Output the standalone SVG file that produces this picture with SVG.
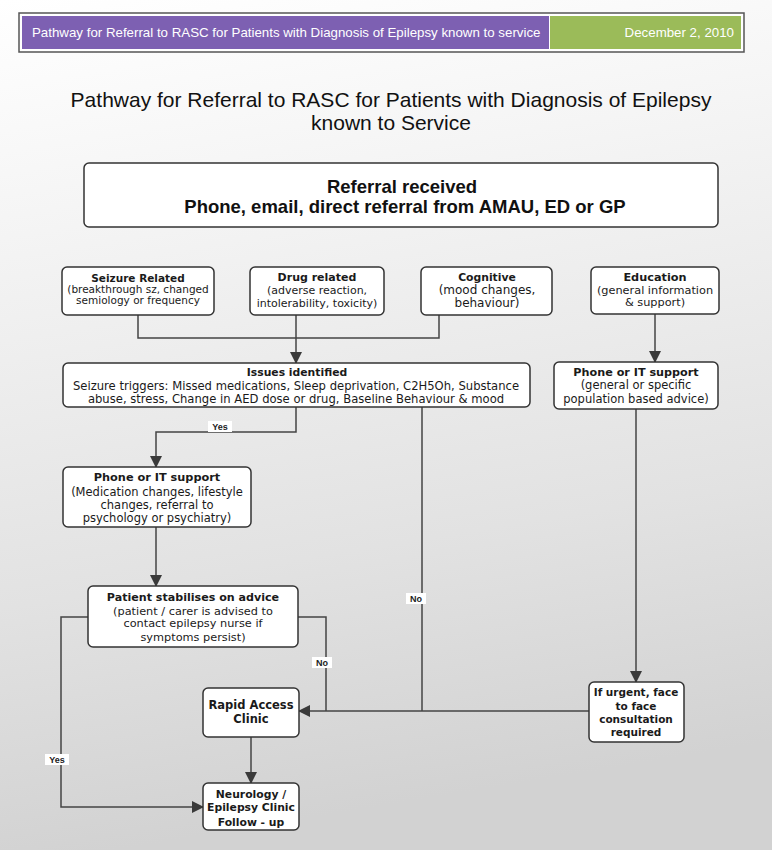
<svg xmlns="http://www.w3.org/2000/svg" width="772" height="850" viewBox="0 0 772 850">
<defs>
  <linearGradient id="bg" x1="0" y1="0" x2="0.15" y2="1">
    <stop offset="0" stop-color="#ffffff"/>
    <stop offset="0.25" stop-color="#f5f5f5"/>
    <stop offset="0.7" stop-color="#e2e2e2"/>
    <stop offset="1" stop-color="#d2d2d2"/>
  </linearGradient>
  <marker id="arr" viewBox="0 0 12 12" refX="11" refY="6" markerWidth="12" markerHeight="12" markerUnits="userSpaceOnUse" orient="auto">
    <path d="M0,0 L12,6 L0,12 Z" fill="#3a3a3a"/>
  </marker>
  <style>
    .box{fill:#ffffff;stroke:#333333;stroke-width:1.5}
    .t{font-family:"DejaVu Sans",Verdana,sans-serif;fill:#1a1a1a;text-anchor:middle}
    .b{font-weight:bold}
    .ln{fill:none;stroke:#444444;stroke-width:1.5}
    .lbl{font-family:"Liberation Sans",Arial,sans-serif;font-size:9px;font-weight:bold;fill:#222;text-anchor:middle}
    .lblbg{fill:#ffffff}
    .hd{font-family:"Liberation Sans",Arial,sans-serif;font-size:13.3px;fill:#ffffff}
    .ttl{font-family:"Liberation Sans",Arial,sans-serif;font-size:21px;fill:#111111;text-anchor:middle}
    .ref{font-family:"Liberation Sans",Arial,sans-serif;font-size:18.5px;font-weight:bold;fill:#111111;text-anchor:middle}
  </style>
</defs>
<rect x="0" y="0" width="772" height="850" fill="url(#bg)"/>

<g id="header">
  <rect x="19" y="13" width="725" height="39" fill="#ffffff" stroke="#555555" stroke-width="1.5"/>
  <rect x="22" y="16" width="527" height="33" fill="#7d60b2"/>
  <rect x="550" y="16" width="191" height="33" fill="#9bbb59"/>
  <text class="hd" x="32" y="37">Pathway for Referral to RASC for Patients with Diagnosis of Epilepsy known to service</text>
  <text class="hd" x="734" y="37" text-anchor="end">December 2, 2010</text>
</g>

<g id="title">
  <text class="ttl" x="391" y="107">Pathway for Referral to RASC for Patients with Diagnosis of Epilepsy</text>
  <text class="ttl" x="391" y="130">known to Service</text>
</g>

<g id="connectors">
  <polyline class="ln" points="138,315 138,338 439,338 439,315"/>
  <line class="ln" x1="296" y1="315" x2="296" y2="363" marker-end="url(#arr)"/>
  <line class="ln" x1="655" y1="314" x2="655" y2="362" marker-end="url(#arr)"/>
  <polyline class="ln" points="296,407 296,432 156,432 156,467" marker-end="url(#arr)"/>
  <polyline class="ln" points="422,407 422,711"/>
  <line class="ln" x1="636" y1="409" x2="636" y2="682" marker-end="url(#arr)"/>
  <polyline class="ln" points="589,711 299,711" marker-end="url(#arr)"/>
  <line class="ln" x1="156" y1="527" x2="156" y2="586" marker-end="url(#arr)"/>
  <polyline class="ln" points="298,617 326,617 326,711"/>
  <polyline class="ln" points="88,617 61,617 61,807 203,807" marker-end="url(#arr)"/>
  <line class="ln" x1="251" y1="737" x2="251" y2="783" marker-end="url(#arr)"/>
  <rect class="lblbg" x="208" y="421" width="24" height="11"/>
  <text class="lbl" x="220" y="430">Yes</text>
  <rect class="lblbg" x="406" y="593" width="20" height="11"/>
  <text class="lbl" x="416" y="602">No</text>
  <rect class="lblbg" x="312" y="657" width="20" height="11"/>
  <text class="lbl" x="322" y="666">No</text>
  <rect class="lblbg" x="45" y="754" width="24" height="11"/>
  <text class="lbl" x="57" y="763">Yes</text>
</g>

<g id="referral">
  <rect class="box" x="84" y="163" width="634" height="64" rx="5"/>
  <text class="ref" x="402" y="193">Referral received</text>
  <text class="ref" x="405" y="213">Phone, email, direct referral from AMAU, ED or GP</text>
</g>

<g id="seizure" font-size="10.5">
  <rect class="box" x="62" y="267" width="152" height="48" rx="5"/>
  <text class="t b" x="138" y="282">Seizure Related</text>
  <text class="t" x="138" y="293">(breakthrough sz, changed</text>
  <text class="t" x="138" y="304">semiology or frequency</text>
</g>

<g id="drug" font-size="11">
  <rect class="box" x="250" y="267" width="134" height="48" rx="5"/>
  <text class="t b" x="317" y="281">Drug related</text>
  <text class="t" x="317" y="294">(adverse reaction,</text>
  <text class="t" x="317" y="307">intolerability, toxicity)</text>
</g>

<g id="cognitive" font-size="12">
  <rect class="box" x="421" y="267" width="131" height="48" rx="5"/>
  <text class="t b" x="487" y="281" font-size="10.8">Cognitive</text>
  <text class="t" x="487" y="294">(mood changes,</text>
  <text class="t" x="487" y="307">behaviour)</text>
</g>

<g id="education" font-size="11.3">
  <rect class="box" x="591" y="267" width="128" height="47" rx="5"/>
  <text class="t b" x="655" y="281">Education</text>
  <text class="t" x="655" y="294">(general information</text>
  <text class="t" x="655" y="306">&amp; support)</text>
</g>

<g id="issues" font-size="11.6">
  <rect class="box" x="63" y="363" width="467" height="44" rx="5"/>
  <text class="t b" x="297" y="376" font-size="10.8">Issues identified</text>
  <text class="t" x="296" y="390">Seizure triggers: Missed medications, Sleep deprivation, C2H5Oh, Substance</text>
  <text class="t" x="296" y="403">abuse, stress, Change in AED dose or drug, Baseline Behaviour &amp; mood</text>
</g>

<g id="phone-general" font-size="11.5">
  <rect class="box" x="554" y="362" width="164" height="47" rx="5"/>
  <text class="t b" x="636" y="376" font-size="11.2">Phone or IT support</text>
  <text class="t" x="636" y="389">(general or specific</text>
  <text class="t" x="636" y="403">population based advice)</text>
</g>

<g id="phone-medication" font-size="11.5">
  <rect class="box" x="63" y="467" width="188" height="60" rx="5"/>
  <text class="t b" x="157" y="481" font-size="11.3">Phone or IT support</text>
  <text class="t" x="157" y="496">(Medication changes, lifestyle</text>
  <text class="t" x="157" y="509">changes, referral to</text>
  <text class="t" x="157" y="522">psychology or psychiatry)</text>
</g>

<g id="stabilises" font-size="11.3">
  <rect class="box" x="88" y="586" width="210" height="61" rx="5"/>
  <text class="t b" x="193" y="601" font-size="11.1">Patient stabilises on advice</text>
  <text class="t" x="193" y="615">(patient / carer is advised to</text>
  <text class="t" x="193" y="627">contact epilepsy nurse if</text>
  <text class="t" x="193" y="641">symptoms persist)</text>
</g>

<g id="rapid-access" font-size="11.5">
  <rect class="box" x="203" y="688" width="96" height="49" rx="5"/>
  <text class="t b" x="251" y="709">Rapid Access</text>
  <text class="t b" x="251" y="723">Clinic</text>
</g>

<g id="neurology" font-size="10.8">
  <rect class="box" x="203" y="783" width="96" height="47" rx="5"/>
  <text class="t b" x="251" y="798">Neurology /</text>
  <text class="t b" x="251" y="811">Epilepsy Clinic</text>
  <text class="t b" x="251" y="826">Follow - up</text>
</g>

<g id="urgent" font-size="10.5">
  <rect class="box" x="589" y="682" width="95" height="60" rx="5"/>
  <text class="t b" x="636" y="696">If urgent, face</text>
  <text class="t b" x="636" y="710">to face</text>
  <text class="t b" x="636" y="723">consultation</text>
  <text class="t b" x="636" y="736">required</text>
</g>
</svg>
